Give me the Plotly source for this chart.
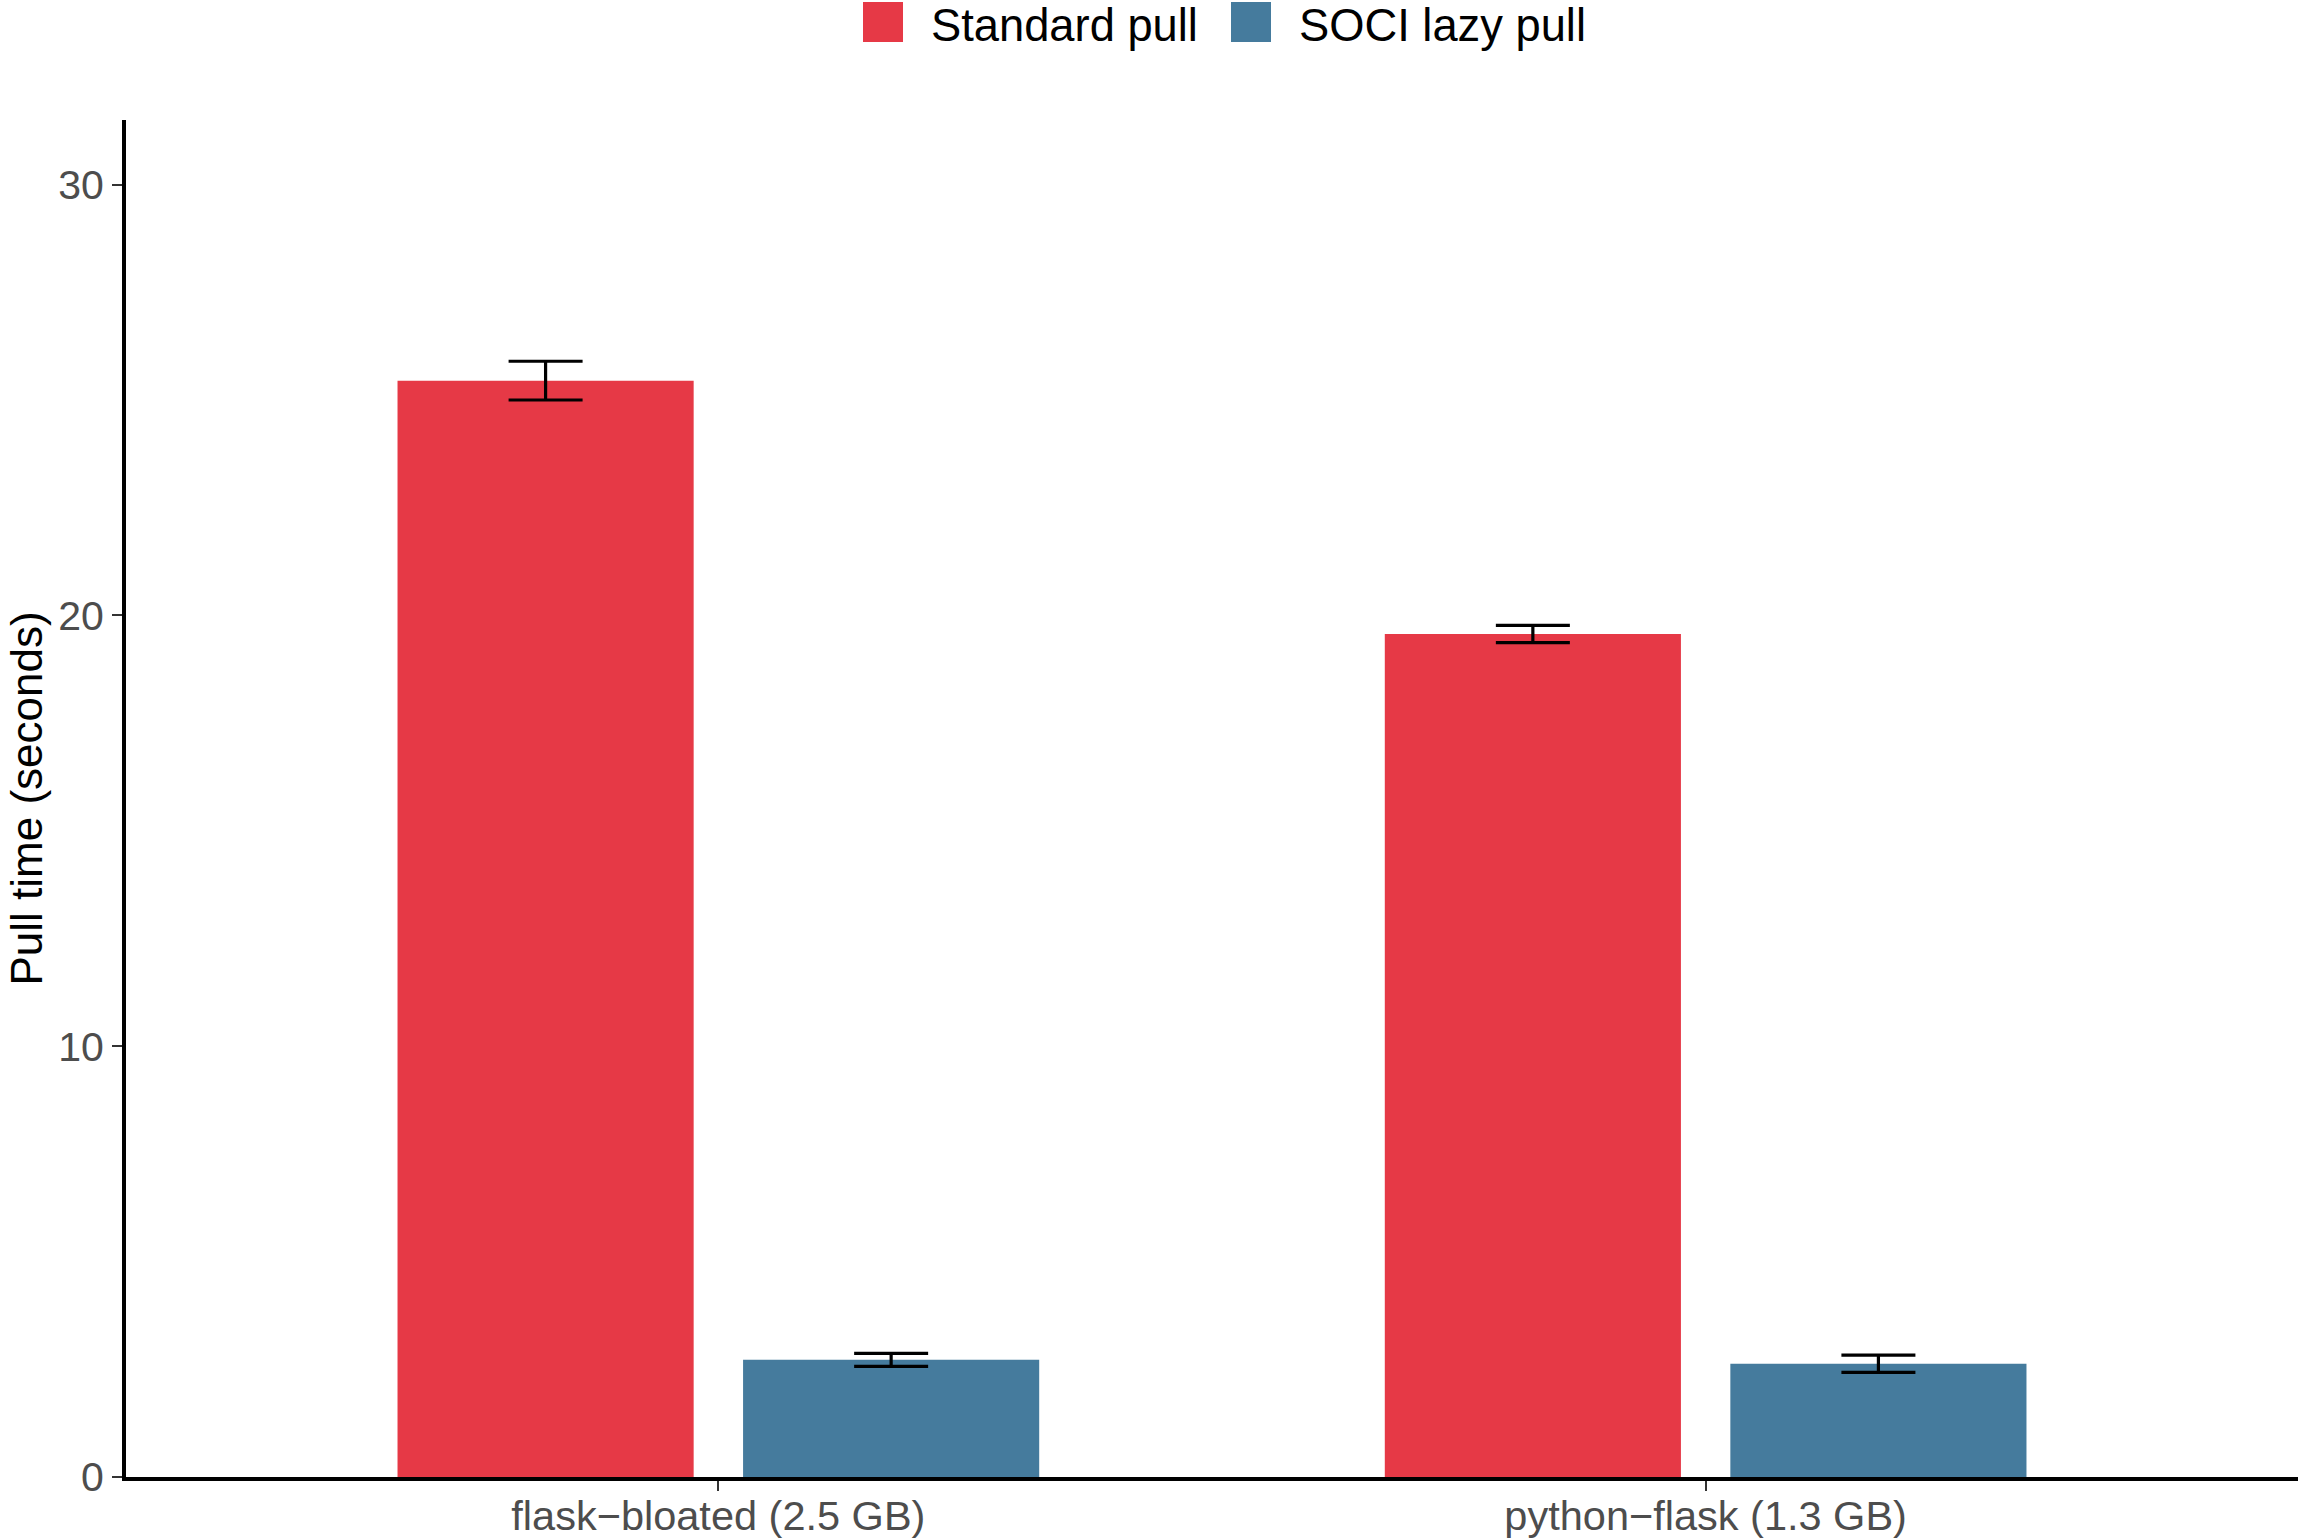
import plotly.graph_objects as go

categories = ["flask\u2212bloated (2.5 GB)", "python\u2212flask (1.3 GB)"]
series_names = ["Standard pull", "SOCI lazy pull"]
standard_mean = [25.45, 19.57]
standard_err = [0.45, 0.20]
soci_mean = [2.72, 2.63]
soci_err = [0.15, 0.20]
y_ticks = [0, 10, 20, 30]
colors = ["#E63946", "#457B9D"]

W, H = 2298, 1539
L, R, T, B = 126, 0, 120, 62
FONT = "Liberation Sans, Arial, Helvetica, sans-serif"

fig = go.Figure()
for name, mean, err, col in [
    (series_names[0], standard_mean, standard_err, colors[0]),
    (series_names[1], soci_mean, soci_err, colors[1]),
]:
    fig.add_trace(go.Bar(
        x=categories, y=mean, name=name, marker_color=col, marker_line_width=0,
        error_y=dict(type="data", array=err, visible=True, color="black",
                     thickness=3.2, width=37),
        showlegend=False,
    ))

pw = W - L - R

def px_to_paper_x(px):
    return (px - L) / pw

ph = H - T - B

def px_to_paper_y(py):
    return (H - B - py) / ph

shapes = []
annotations = []
# manual legend
leg_items = [(863, 929, series_names[0], colors[0]), (1231, 1297, series_names[1], colors[1])]
for sx, tx, name, col in leg_items:
    shapes.append(dict(type="rect", xref="paper", yref="paper",
                       x0=px_to_paper_x(sx), x1=px_to_paper_x(sx + 40),
                       y0=px_to_paper_y(42), y1=px_to_paper_y(2),
                       fillcolor=col, line_width=0))
    annotations.append(dict(text=name, xref="paper", yref="paper",
                            x=px_to_paper_x(tx), y=px_to_paper_y(25),
                            xanchor="left", yanchor="middle", showarrow=False,
                            font=dict(size=45.3, color="black", family=FONT)))

annotations.append(dict(text="Pull time (seconds)", xref="paper", yref="paper",
                        x=px_to_paper_x(26), y=0.5, textangle=-90,
                        xanchor="center", yanchor="middle", showarrow=False,
                        font=dict(size=44, color="black", family=FONT)))

fig.update_layout(
    width=W, height=H,
    margin=dict(l=L, r=R, t=T, b=B, autoexpand=False),
    plot_bgcolor="white", paper_bgcolor="white",
    barmode="group", bargap=0.3, bargroupgap=0.143,
    font=dict(family=FONT),
    shapes=shapes, annotations=annotations,
    showlegend=False,
)
fig.update_xaxes(
    range=[-0.6, 1.6], showgrid=False, zeroline=False,
    showline=True, linecolor="black", linewidth=4,
    ticks="outside", ticklen=10, tickwidth=2, tickcolor="#333333",
    ticklabelstandoff=-11,
    tickfont=dict(size=41.5, color="#4D4D4D", family=FONT),
    automargin=False, fixedrange=True,
)
fig.update_yaxes(
    range=[0, 31.5], tickvals=y_ticks, ticktext=[str(v) for v in y_ticks],
    showgrid=False, zeroline=False,
    showline=True, linecolor="black", linewidth=4,
    ticks="outside", ticklen=10, tickwidth=2, tickcolor="#333333",
    tickfont=dict(size=41, color="#4D4D4D", family=FONT),
    automargin=False, fixedrange=True,
)

fig.write_html("out.html")
